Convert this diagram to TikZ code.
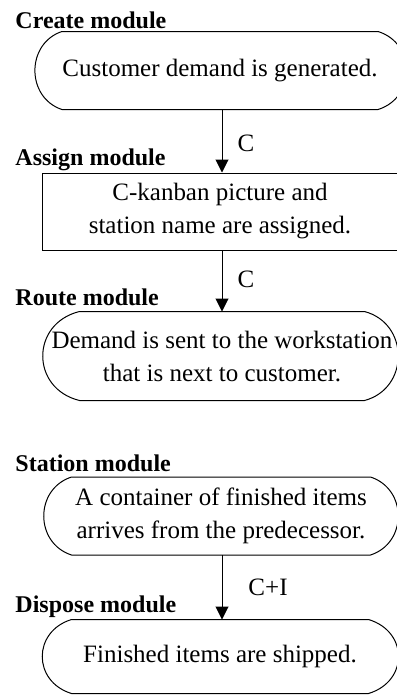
\documentclass[tikz,border=0pt]{standalone}
\usepackage{fontspec}
\setmainfont{Liberation Serif}
\usetikzlibrary{arrows.meta,positioning}

\tikzset{
  modlabel/.style={anchor=west,inner sep=0pt,font=\fontsize{12}{14}\selectfont\bfseries},
  termbox/.style={inner sep=0pt,align=center,minimum width=150pt,minimum height=38.5pt},
  flowarrow/.style={-{Triangle[width=6.5pt,length=6.5pt]}},
  flowlabel/.style={inner sep=0pt,right=7.5pt}
}

\begin{document}
\begin{tikzpicture}[x=0.5pt,y=-0.5pt,line width=0.5pt,
  every node/.append style={font=\fontsize{12.5}{16.5}\selectfont}]
  \useasboundingbox (0,0) rectangle (397,698);

  % module names
  \node[modlabel] (createlbl) at (15,20) {Create module};
  \node[modlabel] (assignlbl) at (15,160) {Assign module};
  \node[modlabel] (routelbl) at (15,297) {Route module};
  \node[modlabel] (stationlbl) at (15,463) {Station module};
  \node[modlabel] (disposelbl) at (15,607) {Dispose module};

  % boxes
  \node[termbox] (create) at (220,70.5) {Customer demand is generated.};
  \node[draw,inner sep=0pt,align=center,minimum width=178pt,minimum height=38.5pt]
    (assign) at (220,211.5) {C-kanban picture and\\station name are assigned.};
  \node[termbox,minimum width=142pt,minimum height=44pt] (route) at (222,356)
    {\makebox[0pt]{Demand is sent to the workstation}\\\makebox[0pt]{that is next to customer.}};
  \node[termbox,minimum width=149pt] (station) at (221,516)
    {A container of finished items\\arrives from the predecessor.};
  \node[termbox,minimum width=148pt,minimum height=36.5pt] (dispose) at (220,656.5)
    {Finished items are shipped.};

  % curved sides
  \foreach \n/\al/\ar in {create/36/38,route/49/45,station/37/37,dispose/39/40}
    \draw (\n.north west) -- (\n.north east)
      .. controls +(\ar,12) and +(\ar,-12) .. (\n.south east) -- (\n.south west)
      .. controls +(-\al,-12) and +(-\al,12) .. (\n.north west) -- cycle;

  % flow
  \draw[flowarrow] (create.south -| 222,0) -- node[flowlabel,pos=.53] (c1) {C} (assign.north -| 222,0);
  \draw[flowarrow] (assign.south -| 222,0) -- node[flowlabel,pos=.48] (c2) {C} (route.north -| 222,0);
  \draw[flowarrow] (station.south -| 222,0) -- node[flowlabel,right=13pt,pos=.5] (c3) {C+I} (dispose.north -| 222,0);
\end{tikzpicture}
\end{document}
